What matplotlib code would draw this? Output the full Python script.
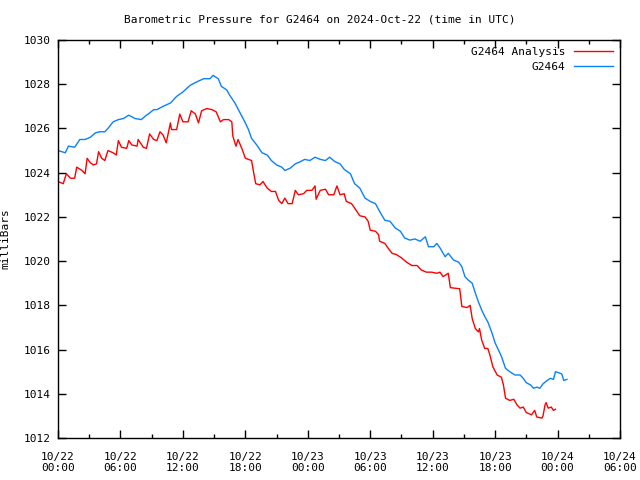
import matplotlib
matplotlib.use("Agg")
import matplotlib.pyplot as plt

# hours since 2024-10-22 00:00 UTC, pressure in mbar
obs_hours = [0.0, 0.7, 1.0, 1.6, 2.1, 2.6, 3.1, 3.6, 4.0, 4.5, 4.8, 5.3, 5.8, 6.3, 6.8, 7.4, 8.0, 8.5,
             8.8, 9.2, 9.5, 10.1, 10.8, 11.4, 12.0, 12.7, 13.3, 14.0, 14.6, 14.9, 15.4, 15.7, 16.2,
             16.5, 17.0, 17.5, 18.0, 18.3, 18.6, 19.1, 19.6, 20.1, 20.5, 21.0, 21.5, 21.8, 22.3,
             22.8, 23.3, 23.7, 24.2, 24.7, 25.2, 25.7, 26.1, 26.6, 27.1, 27.5, 28.1, 28.5, 29.0,
             29.5, 30.0, 30.5, 30.9, 31.4, 31.9, 32.4, 32.9, 33.3, 33.8, 34.3, 34.8, 35.3, 35.6,
             36.1, 36.4, 36.7, 37.2, 37.5, 38.0, 38.5, 38.8, 39.1, 39.4, 39.8, 40.1, 40.4, 40.7,
             41.0, 41.3, 41.7, 42.0, 42.3, 42.6, 43.0, 43.4, 43.9, 44.4, 44.7, 45.0, 45.4, 45.7,
             46.0, 46.3, 46.6, 47.0, 47.3, 47.6, 47.8, 48.1, 48.4, 48.6, 48.9]
obs_mbar = [1025.0, 1024.9, 1025.2, 1025.15, 1025.5, 1025.5, 1025.6, 1025.8, 1025.85, 1025.85, 1026.0,
            1026.3, 1026.4, 1026.45, 1026.6, 1026.45, 1026.4, 1026.6, 1026.7, 1026.85, 1026.85,
            1027.0, 1027.15, 1027.45, 1027.65, 1027.95, 1028.1, 1028.25, 1028.25, 1028.4, 1028.25,
            1027.9, 1027.75, 1027.5, 1027.15, 1026.7, 1026.25, 1025.95, 1025.55, 1025.25, 1024.9,
            1024.8, 1024.55, 1024.35, 1024.25, 1024.1, 1024.2, 1024.4, 1024.5, 1024.6, 1024.55,
            1024.7, 1024.6, 1024.55, 1024.7, 1024.5, 1024.4, 1024.15, 1023.95, 1023.5, 1023.3,
            1022.85, 1022.7, 1022.6, 1022.25, 1021.85, 1021.8, 1021.5, 1021.35, 1021.05, 1020.95,
            1021.0, 1020.9, 1021.1, 1020.65, 1020.65, 1020.8, 1020.6, 1020.2, 1020.35, 1020.05,
            1019.95, 1019.75, 1019.3, 1019.15, 1019.0, 1018.55, 1018.15, 1017.8, 1017.5, 1017.25,
            1016.75, 1016.3, 1016.0, 1015.7, 1015.15, 1015.0, 1014.85, 1014.85, 1014.7, 1014.5,
            1014.4, 1014.25, 1014.3, 1014.25, 1014.45, 1014.6, 1014.7, 1014.65, 1015.0, 1014.95,
            1014.9, 1014.6, 1014.65]

ana_hours = [0.0, 0.5, 0.8, 1.2, 1.6, 1.8, 2.3, 2.6, 2.8, 3.1, 3.4, 3.7, 3.9, 4.2, 4.5, 4.8, 5.3, 5.6,
             5.8, 6.1, 6.6, 6.8, 7.1, 7.6, 7.7, 8.2, 8.5, 8.8, 9.2, 9.5, 9.8, 10.1, 10.4, 10.8, 10.9,
             11.4, 11.7, 12.0, 12.5, 12.8, 13.2, 13.5, 13.8, 14.3, 14.8, 15.2, 15.6, 15.9, 16.4,
             16.7, 16.8, 17.1, 17.3, 17.7, 18.0, 18.6, 18.8, 19.0, 19.4, 19.7, 20.1, 20.5, 20.9,
             21.2, 21.5, 21.8, 22.1, 22.5, 22.8, 23.1, 23.6, 23.9, 24.4, 24.7, 24.8, 25.2, 25.7,
             26.0, 26.5, 26.8, 27.1, 27.5, 27.7, 28.2, 28.5, 29.0, 29.5, 29.8, 30.0, 30.5, 30.8,
             30.9, 31.4, 31.7, 32.1, 32.5, 33.0, 33.5, 34.0, 34.5, 34.9, 35.4, 35.9, 36.4, 36.7,
             37.0, 37.5, 37.7, 38.6, 38.8, 39.3, 39.6, 39.8, 40.1, 40.4, 40.5, 40.7, 41.0, 41.3,
             41.5, 41.8, 42.2, 42.6, 42.8, 43.0, 43.4, 43.8, 44.1, 44.4, 44.7, 45.0, 45.5, 45.8,
             46.0, 46.5, 46.6, 46.8, 46.9, 47.1, 47.4, 47.6, 47.8]
ana_mbar = [1023.6, 1023.5, 1023.95, 1023.75, 1023.75, 1024.25, 1024.1, 1023.95, 1024.65, 1024.45,
            1024.35, 1024.4, 1024.95, 1024.65, 1024.55, 1025.0, 1024.9, 1024.8, 1025.45, 1025.15,
            1025.1, 1025.45, 1025.25, 1025.2, 1025.5, 1025.15, 1025.1, 1025.75, 1025.5, 1025.45,
            1025.85, 1025.7, 1025.35, 1026.25, 1025.95, 1025.95, 1026.65, 1026.3, 1026.3, 1026.8,
            1026.65, 1026.25, 1026.8, 1026.9, 1026.85, 1026.75, 1026.3, 1026.4, 1026.4, 1026.3,
            1025.65, 1025.2, 1025.5, 1025.05, 1024.65, 1024.55, 1024.0, 1023.5, 1023.45, 1023.6,
            1023.3, 1023.15, 1023.15, 1022.75, 1022.6, 1022.85, 1022.6, 1022.6, 1023.2, 1023.0,
            1023.05, 1023.2, 1023.2, 1023.4, 1022.8, 1023.2, 1023.25, 1023.0, 1023.0, 1023.4,
            1023.0, 1023.05, 1022.7, 1022.6, 1022.4, 1022.05, 1022.0, 1021.8, 1021.4, 1021.35,
            1021.2, 1020.9, 1020.8, 1020.6, 1020.35, 1020.3, 1020.15, 1019.95, 1019.8, 1019.8,
            1019.6, 1019.5, 1019.5, 1019.45, 1019.5, 1019.3, 1019.45, 1018.8, 1018.75, 1017.95,
            1017.9, 1018.0, 1017.4, 1016.95, 1016.8, 1016.95, 1016.45, 1016.05, 1016.05, 1015.75,
            1015.2, 1014.85, 1014.75, 1014.4, 1013.8, 1013.7, 1013.75, 1013.5, 1013.35, 1013.4,
            1013.15, 1013.05, 1013.25, 1012.95, 1012.9, 1013.0, 1013.5, 1013.6, 1013.35, 1013.4,
            1013.25, 1013.3]

tick_hours = [0, 6, 12, 18, 24, 30, 36, 42, 48, 54]
tick_labels = ["10/22\n00:00", "10/22\n06:00", "10/22\n12:00", "10/22\n18:00", "10/23\n00:00",
               "10/23\n06:00", "10/23\n12:00", "10/23\n18:00", "10/24\n00:00", "10/24\n06:00"]

plt.rcParams["font.family"] = "DejaVu Sans Mono"
plt.rcParams["font.size"] = 8

fig = plt.figure(figsize=(6.4, 4.8), dpi=100)
ax = fig.add_axes([58 / 640, 1 - 438 / 480, 562 / 640, 398 / 480])

ax.plot(ana_hours, ana_mbar, color="#ff0000", lw=1, label="G2464 Analysis")
ax.plot(obs_hours, obs_mbar, color="#0a80ff", lw=1, label="G2464")

ax.set_xlim(0, 54)
ax.set_ylim(1012, 1030)
ax.set_xticks(tick_hours)
ax.set_xticklabels(tick_labels)
ax.set_xticks(range(3, 54, 6), minor=True)
ax.set_yticks(range(1012, 1031, 2))
ax.tick_params(which="both", direction="in", top=True, right=True, width=1)
ax.tick_params(which="major", length=6, pad=5)
ax.tick_params(axis="x", which="major", pad=10)
ax.tick_params(which="minor", length=3)
for s in ax.spines.values():
    s.set_linewidth(1)

ax.set_ylabel("milliBars", labelpad=10)
fig.text(0.5, 1 - 19 / 480, "Barometric Pressure for G2464 on 2024-Oct-22 (time in UTC)",
         ha="center", va="center", fontsize=8)

ax.legend(loc="upper right", frameon=False, markerfirst=False, handlelength=3.5,
          borderaxespad=0.2, labelspacing=0.45, handletextpad=0.8)

fig.savefig("out.png", dpi=100)
